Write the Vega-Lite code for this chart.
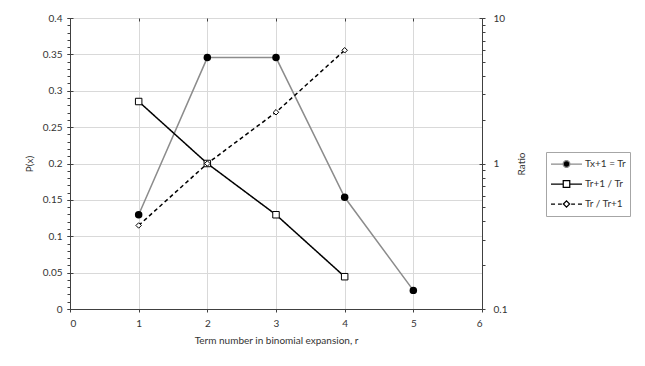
{
  "$schema": "https://vega.github.io/schema/vega-lite/v6.json",
  "width": 412,
  "height": 291,
  "autosize": {"type": "none"},
  "padding": {"left": 70, "top": 18, "right": 163, "bottom": 57},
  "background": "white",
  "config": {
    "font": "Lato",
    "view": {"stroke": null},
    "axis": {
      "labelFont": "Lato",
      "labelFontSize": 10,
      "labelColor": "#333333",
      "titleFont": "Lato",
      "titleFontSize": 10,
      "titleFontWeight": "normal",
      "titleColor": "#333333",
      "domainColor": "#404040",
      "domainWidth": 1,
      "tickColor": "#404040",
      "tickWidth": 1,
      "gridColor": "#d9d9d9",
      "gridWidth": 1
    },
    "legend": {
      "labelFont": "Lato",
      "labelFontSize": 10,
      "labelColor": "#333333",
      "symbolSize": 961,
      "symbolStrokeWidth": 1.25
    }
  },
  "datasets": {
    "prob": [
      {"r": 1, "p": 0.1296, "series": "Tx+1 = Tr"},
      {"r": 2, "p": 0.3456, "series": "Tx+1 = Tr"},
      {"r": 3, "p": 0.3456, "series": "Tx+1 = Tr"},
      {"r": 4, "p": 0.1536, "series": "Tx+1 = Tr"},
      {"r": 5, "p": 0.0256, "series": "Tx+1 = Tr"}
    ],
    "ratio": [
      {"r": 1, "ratio": 2.6667, "series": "Tr+1 / Tr"},
      {"r": 2, "ratio": 1, "series": "Tr+1 / Tr"},
      {"r": 3, "ratio": 0.4444, "series": "Tr+1 / Tr"},
      {"r": 4, "ratio": 0.1667, "series": "Tr+1 / Tr"},
      {"r": 1, "ratio": 0.375, "series": "Tr / Tr+1"},
      {"r": 2, "ratio": 1, "series": "Tr / Tr+1"},
      {"r": 3, "ratio": 2.25, "series": "Tr / Tr+1"},
      {"r": 4, "ratio": 6, "series": "Tr / Tr+1"}
    ]
  },
  "layer": [
    {
      "data": {"name": "prob"},
      "mark": {"type": "line", "strokeWidth": 1.5},
      "encoding": {
        "x": {
          "field": "r", "type": "quantitative",
          "scale": {"domain": [0, 6], "nice": false},
          "axis": {
            "values": [0, 1, 2, 3, 4, 5, 6], "format": "d", "grid": true,
            "tickSize": 3, "labelPadding": 6,
            "title": "Term number in binomial expansion, r", "titlePadding": 7
          }
        },
        "y": {
          "field": "p", "type": "quantitative",
          "scale": {"domain": [0, 0.4], "nice": false, "zero": true},
          "axis": {
            "orient": "left",
            "values": [0, 0.05, 0.1, 0.15, 0.2, 0.25, 0.3, 0.35, 0.4],
            "format": "~g", "grid": true, "tickSize": 3, "labelPadding": 5,
            "title": "P(x)", "titlePadding": 8
          }
        },
        "color": {
          "field": "series", "type": "nominal",
          "scale": {"domain": ["Tx+1 = Tr", "Tr+1 / Tr", "Tr / Tr+1"], "range": ["#8c8c8c", "#000000", "#000000"]},
          "legend": {
            "title": null, "orient": "none", "legendX": 476, "legendY": 134,
            "padding": 4, "strokeColor": "#a6a6a6", "fillColor": "white",
            "clipHeight": 16, "rowPadding": 4, "labelOffset": 2,
            "encode": {
              "symbols": {
                "update": {
                  "shape": {"signal": "datum.value === 'Tx+1 = Tr' ? 'M-1,0L-0.22,0M0.22,0L1,0M-0.22,0A0.22,0.22,0,1,0,0.22,0A0.22,0.22,0,1,0,-0.22,0Z' : datum.value === 'Tr+1 / Tr' ? 'M-1,0L-0.21,0M0.21,0L1,0M-0.21,-0.21L0.21,-0.21L0.21,0.21L-0.21,0.21Z' : 'M-1,0L-0.74,0M-0.55,0L-0.3,0M0.3,0L0.55,0M0.74,0L1,0M-0.2,0L0,-0.2L0.2,0L0,0.2Z'"},
                  "fill": {"signal": "datum.value === 'Tx+1 = Tr' ? '#000000' : '#ffffff'"},
                  "stroke": {"signal": "datum.value === 'Tx+1 = Tr' ? '#8c8c8c' : '#000000'"},
                  "strokeDash": {"value": []},
                  "strokeWidth": {"value": 1.25},
                  "opacity": {"value": 1},
                  "size": {"value": 961}
                }
              }
            }
          }
        }
      }
    },
    {
      "data": {"name": "prob"},
      "mark": {"type": "point", "shape": "circle", "filled": true, "color": "#000000", "opacity": 1, "size": 56},
      "encoding": {
        "x": {
          "field": "r", "type": "quantitative",
          "scale": {"domain": [0, 6], "nice": false},
          "axis": {"values": [0, 1, 2, 3, 4, 5, 6], "offset": -3, "tickSize": 3, "labels": false, "domain": false, "grid": false, "title": null}
        },
        "y": {
          "field": "p", "type": "quantitative",
          "scale": {"domain": [0, 0.4], "nice": false},
          "axis": {
            "orient": "left",
            "values": [0, 0.01, 0.02, 0.03, 0.04, 0.05, 0.06, 0.07, 0.08, 0.09, 0.1, 0.11, 0.12, 0.13, 0.14, 0.15, 0.16, 0.17, 0.18, 0.19, 0.2, 0.21, 0.22, 0.23, 0.24, 0.25, 0.26, 0.27, 0.28, 0.29, 0.3, 0.31, 0.32, 0.33, 0.34, 0.35, 0.36, 0.37, 0.38, 0.39, 0.4],
            "tickSize": 3, "labels": false, "domain": false, "grid": false, "title": null
          }
        }
      }
    },
    {
      "data": {"name": "prob"},
      "mark": {"type": "point", "opacity": 0},
      "encoding": {
        "x": {"field": "r", "type": "quantitative", "scale": {"domain": [0, 6], "nice": false}, "axis": null},
        "y": {
          "field": "p", "type": "quantitative",
          "scale": {"domain": [0, 0.4], "nice": false},
          "axis": {
            "orient": "left", "offset": -3,
            "values": [0, 0.05, 0.1, 0.15, 0.2, 0.25, 0.3, 0.35, 0.4],
            "tickSize": 3, "labels": false, "domain": false, "grid": false, "title": null
          }
        }
      }
    },
    {
      "data": {"name": "ratio"},
      "mark": {"type": "line", "strokeWidth": 1.5},
      "encoding": {
        "x": {"field": "r", "type": "quantitative", "scale": {"domain": [0, 6], "nice": false}, "axis": null},
        "y": {
          "field": "ratio", "type": "quantitative",
          "scale": {"type": "log", "domain": [0.1, 10], "nice": false},
          "axis": {
            "orient": "right", "values": [0.1, 1, 10], "format": "~g",
            "grid": false, "tickSize": 3, "labelPadding": 8,
            "title": "Ratio", "titleAngle": 270, "titlePadding": 20
          }
        },
        "color": {
          "field": "series", "type": "nominal",
          "scale": {"domain": ["Tx+1 = Tr", "Tr+1 / Tr", "Tr / Tr+1"], "range": ["#8c8c8c", "#000000", "#000000"]},
          "legend": {
            "title": null, "orient": "none", "legendX": 476, "legendY": 134,
            "padding": 4, "strokeColor": "#a6a6a6", "fillColor": "white",
            "clipHeight": 16, "rowPadding": 4, "labelOffset": 2,
            "encode": {
              "symbols": {
                "update": {
                  "shape": {"signal": "datum.value === 'Tx+1 = Tr' ? 'M-1,0L-0.22,0M0.22,0L1,0M-0.22,0A0.22,0.22,0,1,0,0.22,0A0.22,0.22,0,1,0,-0.22,0Z' : datum.value === 'Tr+1 / Tr' ? 'M-1,0L-0.21,0M0.21,0L1,0M-0.21,-0.21L0.21,-0.21L0.21,0.21L-0.21,0.21Z' : 'M-1,0L-0.74,0M-0.55,0L-0.3,0M0.3,0L0.55,0M0.74,0L1,0M-0.2,0L0,-0.2L0.2,0L0,0.2Z'"},
                  "fill": {"signal": "datum.value === 'Tx+1 = Tr' ? '#000000' : '#ffffff'"},
                  "stroke": {"signal": "datum.value === 'Tx+1 = Tr' ? '#8c8c8c' : '#000000'"},
                  "strokeDash": {"value": []},
                  "strokeWidth": {"value": 1.25},
                  "opacity": {"value": 1},
                  "size": {"value": 961}
                }
              }
            }
          }
        },
        "strokeDash": {
          "field": "series", "type": "nominal",
          "scale": {"domain": ["Tr+1 / Tr", "Tr / Tr+1"], "range": [[1, 0], [4, 3]]},
          "legend": null
        }
      }
    },
    {
      "data": {"name": "ratio"},
      "transform": [{"filter": "datum.series === 'Tr+1 / Tr'"}],
      "mark": {"type": "point", "shape": "square", "filled": true, "fill": "#ffffff", "stroke": "#000000", "strokeWidth": 1, "opacity": 1, "size": 42},
      "encoding": {
        "x": {"field": "r", "type": "quantitative", "scale": {"domain": [0, 6], "nice": false}, "axis": null},
        "y": {
          "field": "ratio", "type": "quantitative",
          "scale": {"type": "log", "domain": [0.1, 10], "nice": false},
          "axis": {
            "orient": "right",
            "values": [0.2, 0.3, 0.4, 0.5, 0.6, 0.7, 0.8, 0.9, 2, 3, 4, 5, 6, 7, 8, 9],
            "tickSize": 3, "labels": false, "domain": false, "grid": false, "title": null
          }
        }
      }
    },
    {
      "data": {"name": "ratio"},
      "transform": [{"filter": "datum.series === 'Tr / Tr+1'"}],
      "mark": {"type": "point", "shape": "diamond", "filled": true, "fill": "#ffffff", "stroke": "#000000", "strokeWidth": 1, "opacity": 1, "size": 30},
      "encoding": {
        "x": {"field": "r", "type": "quantitative", "scale": {"domain": [0, 6], "nice": false}, "axis": null},
        "y": {
          "field": "ratio", "type": "quantitative",
          "scale": {"type": "log", "domain": [0.1, 10], "nice": false},
          "axis": {
            "orient": "right", "offset": -3, "values": [0.1, 1, 10],
            "tickSize": 3, "labels": false, "domain": false, "grid": false, "title": null
          }
        }
      }
    }
  ],
  "resolve": {
    "scale": {"y": "independent"},
    "axis": {"x": "independent", "y": "independent"}
  }
}
